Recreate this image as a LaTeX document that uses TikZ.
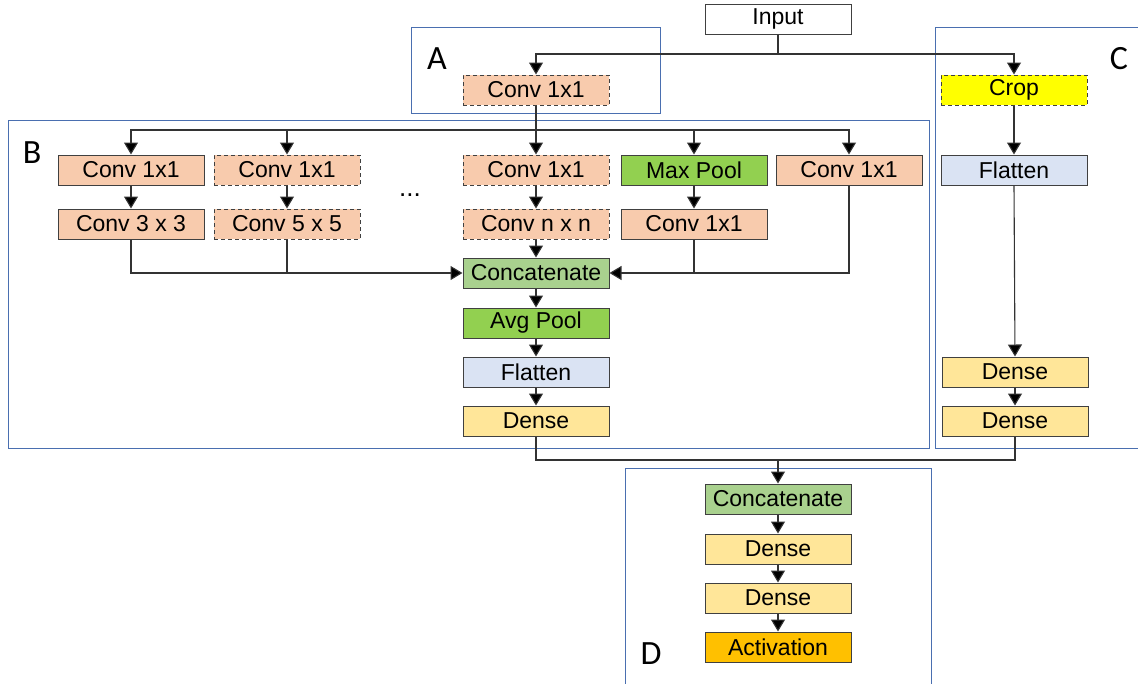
\documentclass[tikz,border=0pt]{standalone}
\usepackage{fontspec}
\setmainfont{Liberation Sans}
\newfontfamily\labfont{Carlito}
\usetikzlibrary{arrows.meta}
\definecolor{peach}{HTML}{F8CBAD}
\definecolor{grn}{HTML}{92D050}
\definecolor{lgrn}{HTML}{A9D18E}
\definecolor{lblue}{HTML}{DAE3F3}
\definecolor{lyel}{HTML}{FFE699}
\definecolor{orng}{HTML}{FFC000}
\definecolor{yel}{HTML}{FFFF00}
\definecolor{grpblue}{HTML}{4A6FB0}
\definecolor{edge}{HTML}{404040}
\tikzset{
  layer/.style={draw=edge, line width=1pt, minimum width=146pt, minimum height=30pt,
    inner sep=0pt, font=\fontsize{23}{27}\selectfont, text=black},
  opt/.style={dashed, dash pattern=on 4pt off 3pt},
  grp/.style={draw=grpblue, line width=1pt},
  lab/.style={font=\labfont\fontsize{34}{38}\selectfont, inner sep=0pt},
  conn/.style={draw=black!80, line width=1.1pt},
  arr/.style={conn, -{Triangle[width=14pt,length=12pt,fill=black]}}
}
\begin{document}
\begin{tikzpicture}[x=1pt,y=-1pt]
\clip (0,0) rectangle (1138,683);
\fill[white] (0,0) rectangle (1138,683);
% groups
\draw[grp] (411,27) rectangle (660,113);
\draw[grp] (8,120) rectangle (929,448);
\draw[grp] (935,27) rectangle (1150,448);
\draw[grp] (625,468) rectangle (931,700);
\node[lab] (labA) at (437,59) {A};
\node[lab] (labB) at (32,153) {B};
\node[lab] (labC) at (1119,59) {C};
\node[lab] (labD) at (651,654) {D};
% nodes
\node[layer, fill=white] (in) at (778,19) {Input};
\node[layer, fill=peach, opt] (convA) at (536,90) {Conv 1x1};
\node[layer, fill=yel, opt] (crop) at (1014,90) {Crop};
\node[layer, fill=lblue] (flatC) at (1014,170) {Flatten};
\node[layer, fill=lyel] (denC1) at (1015,372) {Dense};
\node[layer, fill=lyel] (denC2) at (1015,421) {Dense};

\node[layer, fill=peach] (r1a) at (131,170) {Conv 1x1};
\node[layer, fill=peach, opt] (r1b) at (287,170) {Conv 1x1};
\node[layer, fill=peach, opt] (r1c) at (536,170) {Conv 1x1};
\node[layer, fill=grn] (r1d) at (694,170) {Max Pool};
\node[layer, fill=peach] (r1e) at (849,170) {Conv 1x1};
\node[layer, fill=peach] (r2a) at (131,224) {Conv 3 x 3};
\node[layer, fill=peach, opt] (r2b) at (287,224) {Conv 5 x 5};
\node[layer, fill=peach, opt] (r2c) at (536,224) {Conv n x n};
\node[layer, fill=peach] (r2d) at (694,224) {Conv 1x1};
\node[font=\fontsize{26}{28}\selectfont] (dots) at (410,195) {...};
\node[layer, fill=lgrn] (cat) at (536,273) {Concatenate};
\node[layer, fill=grn] (avg) at (536,323) {Avg Pool};
\node[layer, fill=lblue] (flatB) at (536,372) {Flatten};
\node[layer, fill=lyel] (denB) at (536,421) {Dense};

\node[layer, fill=lgrn] (catD) at (778,499) {Concatenate};
\node[layer, fill=lyel] (d1) at (778,549) {Dense};
\node[layer, fill=lyel] (d2) at (778,598) {Dense};
\node[layer, fill=orng] (act) at (778,647) {Activation};

\coordinate (j1) at (778,54);
\coordinate (j2) at (536,130);
\coordinate (j3) at (778,460);
% connectors
\draw[conn] (in.south) -- (j1);
\draw[arr] (j1) -| (convA.north);
\draw[arr] (j1) -| (crop.north);
\draw[arr] (convA.south) -- (r1c.north);
\draw[arr] (j2) -| (r1a.north);
\draw[arr] (j2) -| (r1b.north);
\draw[arr] (j2) -| (r1d.north);
\draw[arr] (j2) -| (r1e.north);
\draw[arr] (r1a) -- (r2a);
\draw[arr] (r1b) -- (r2b);
\draw[arr] (r1c) -- (r2c);
\draw[arr] (r1d) -- (r2d);
\draw[arr] (r2a.south) |- (cat.west);
\draw[conn] (r2b.south) -- (r2b.south |- cat.west);
\draw[arr] (r2c) -- (cat);
\draw[arr] (r2d.south) |- (cat.east);
\draw[conn] (r1e.south) |- (r2d.south |- cat.east);
\draw[arr] (cat) -- (avg);
\draw[arr] (avg) -- (flatB);
\draw[arr] (flatB) -- (denB);
\draw[arr] (crop) -- (flatC);
\draw[arr] (flatC.south) -- (denC1.north);
\draw[arr] (denC1) -- (denC2);
\draw[conn] (denB.south) |- (j3);
\draw[conn] (denC2.south) |- (j3);
\draw[arr] (j3) -- (catD.north);
\draw[arr] (catD) -- (d1);
\draw[arr] (d1) -- (d2);
\draw[arr] (d2) -- (act);
\end{tikzpicture}
\end{document}
